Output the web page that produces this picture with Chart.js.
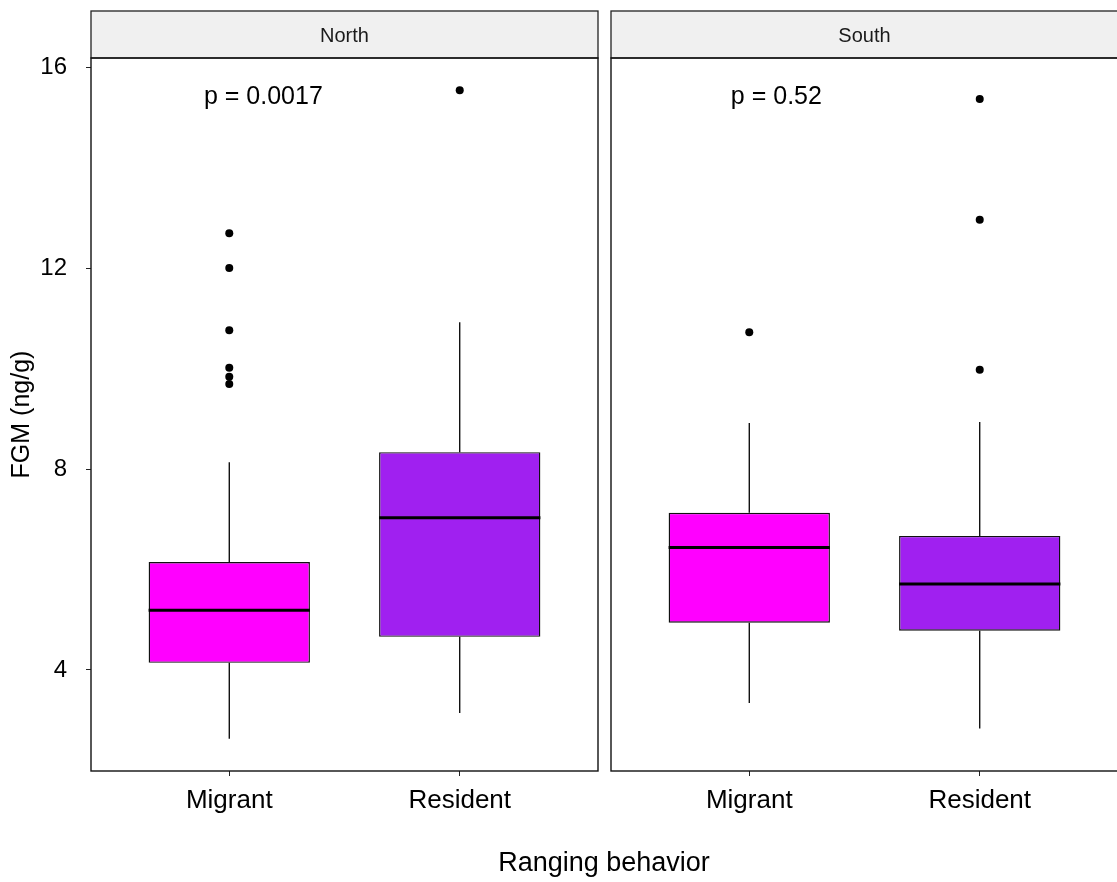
<!DOCTYPE html>
<html>
<head>
<meta charset="utf-8">
<script src="https://cdn.jsdelivr.net/npm/chart.js@4.4.1/dist/chart.umd.min.js"></script>
<style>
  html, body { margin: 0; padding: 0; background: #fff; overflow: hidden; width: 1117px; height: 882px; }
  canvas { position: absolute; top: 0; }
  #north { left: 0; }
  #south { left: 604px; }
  #xtitle { position: absolute; left: 0; width: 1208px; top: 846px; line-height: 32px; text-align: center;
            font-family: "Liberation Sans", Arial, sans-serif; font-size: 27px; color: #000; }
</style>
</head>
<body>
<canvas id="north" width="604" height="882"></canvas>
<canvas id="south" width="514" height="882"></canvas>
<div id="xtitle">Ranging behavior</div>
<script>
const categories = ["Migrant", "Resident"];
const panels = ["North", "South"];
const pLabels = ["p = 0.0017", "p = 0.52"];
const pLabelX = [0.89, 0.92];
const pLabelY = 15.42;
const yTicks = [4, 8, 12, 16];
const boxColors = ["#FF00FF", "#A020F0"];

// North: whisker ends, quartiles, median (Migrant, Resident)
const northLower = [2.63, 3.14];
const northQ1 = [4.14, 4.66];
const northMedian = [5.19, 7.03];
const northQ3 = [6.15, 8.34];
const northUpper = [8.14, 10.93];
const northMigrantOutliers = [12.70, 12.01, 10.77, 10.02, 9.84, 9.70];
const northResidentOutliers = [15.55];

// South
const southLower = [3.34, 2.83];
const southQ1 = [4.94, 4.78];
const southMedian = [6.44, 5.71];
const southQ3 = [7.13, 6.67];
const southUpper = [8.92, 8.94];
const southMigrantOutliers = [10.73];
const southResidentOutliers = [15.38, 12.97, 9.98];

const FONT = '"Liberation Sans", Arial, sans-serif';

// whiskers + median, drawn through the scales
const boxExtras = {
  id: "boxExtras",
  afterDatasetsDraw(chart, args, opts) {
    const ctx = chart.ctx;
    const xs = chart.scales.x, ys = chart.scales.y;
    const bars = chart.getDatasetMeta(0).data;
    ctx.save();
    ctx.strokeStyle = "#000";
    opts.median.forEach((m, i) => {
      const x = xs.getPixelForValue(i + 1);
      const w = bars[i].width;
      ctx.lineWidth = 1.3;
      ctx.beginPath();
      ctx.moveTo(x, ys.getPixelForValue(opts.q3[i]));
      ctx.lineTo(x, ys.getPixelForValue(opts.upper[i]));
      ctx.moveTo(x, ys.getPixelForValue(opts.q1[i]));
      ctx.lineTo(x, ys.getPixelForValue(opts.lower[i]));
      ctx.stroke();
      ctx.lineWidth = 3;
      ctx.beginPath();
      ctx.moveTo(x - w / 2, ys.getPixelForValue(m));
      ctx.lineTo(x + w / 2, ys.getPixelForValue(m));
      ctx.stroke();
    });
    ctx.restore();
  }
};

// strip on top, panel border, p-value text
const panelDeco = {
  id: "panelDeco",
  beforeDraw(chart, args, opts) {
    const {ctx, chartArea: a} = chart;
    ctx.save();
    ctx.fillStyle = "#F0F0F0";
    ctx.fillRect(a.left, 11, a.right - a.left, a.top - 11);
    ctx.strokeStyle = "#222";
    ctx.lineWidth = 1.3;
    ctx.strokeRect(a.left, 11, a.right - a.left, a.top - 11);
    ctx.fillStyle = "#1a1a1a";
    ctx.font = "20px " + FONT;
    ctx.textAlign = "center";
    ctx.textBaseline = "middle";
    ctx.fillText(opts.strip, (a.left + a.right) / 2, (11 + a.top) / 2 + 2);
    ctx.restore();
  },
  afterDraw(chart, args, opts) {
    const {ctx, chartArea: a} = chart;
    ctx.save();
    ctx.strokeStyle = "#111";
    ctx.lineWidth = 1.4;
    ctx.strokeRect(a.left, a.top, a.right - a.left, a.bottom - a.top);
    ctx.fillStyle = "#000";
    ctx.font = "25px " + FONT;
    ctx.textAlign = "left";
    ctx.textBaseline = "middle";
    ctx.fillText(opts.label, chart.scales.x.getPixelForValue(opts.lx), chart.scales.y.getPixelForValue(pLabelY));
    ctx.restore();
  }
};

function makePanel(id, idx, lower, q1, median, q3, upper, outMig, outRes) {
  const showY = idx === 0;
  const points = outMig.map(v => ({x: 1, y: v})).concat(outRes.map(v => ({x: 2, y: v})));
  new Chart(document.getElementById(id), {
    type: "bar",
    data: {
      datasets: [{
        type: "bar",
        data: categories.map((c, i) => ({x: i + 1, y: [q1[i], q3[i]]})),
        backgroundColor: boxColors,
        borderColor: "#111",
        borderWidth: 1.4,
        borderSkipped: false,
        categoryPercentage: 1,
        barPercentage: 0.7
      }, {
        type: "scatter",
        data: points,
        pointRadius: 4,
        pointBackgroundColor: "#000",
        pointBorderWidth: 0
      }]
    },
    options: {
      responsive: false,
      animation: false,
      layout: {autoPadding: false, padding: {left: showY ? 0 : 7, right: showY ? 6 : 0, top: 58, bottom: 0}},
      plugins: {
        legend: {display: false},
        tooltip: {enabled: false},
        boxExtras: {lower, q1, median, q3, upper},
        panelDeco: {strip: panels[idx], label: pLabels[idx], lx: pLabelX[idx]}
      },
      scales: {
        x: {
          type: "linear",
          min: 0.4, max: 2.6,
          offset: false,
          afterBuildTicks: s => { s.ticks = categories.map((c, i) => ({value: i + 1})); },
          afterFit: s => { s.height = 111; },
          grid: {drawOnChartArea: false, drawTicks: true, tickLength: 5, color: "#222", offset: false},
          border: {display: false},
          ticks: {
            callback: v => categories[v - 1],
            font: {family: FONT, size: 26},
            color: "#000",
            padding: 9,
            maxRotation: 0
          }
        },
        y: {
          display: showY,
          min: 1.985, max: 16.195,
          afterBuildTicks: s => { s.ticks = yTicks.map(v => ({value: v})); },
          afterFit: s => { s.width = showY ? 91 : 0; },
          grid: {drawOnChartArea: false, drawTicks: true, tickLength: 5, color: "#222"},
          border: {display: false},
          ticks: {font: {family: FONT, size: 24}, color: "#000", padding: 19},
          title: {display: true, text: "FGM (ng/g)", font: {family: FONT, size: 25}, color: "#000", padding: {top: 7}}
        }
      }
    },
    plugins: [boxExtras, panelDeco]
  });
}

makePanel("north", 0, northLower, northQ1, northMedian, northQ3, northUpper, northMigrantOutliers, northResidentOutliers);
makePanel("south", 1, southLower, southQ1, southMedian, southQ3, southUpper, southMigrantOutliers, southResidentOutliers);
</script>
</body>
</html>
